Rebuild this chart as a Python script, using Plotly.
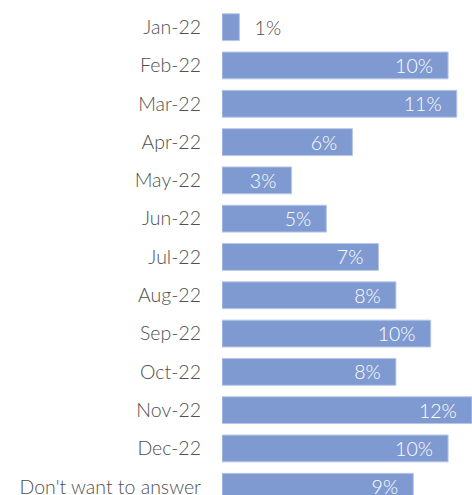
import plotly.graph_objects as go

# Share of responses by month (percent)
months = ["Jan-22", "Feb-22", "Mar-22", "Apr-22", "May-22", "Jun-22", "Jul-22",
          "Aug-22", "Sep-22", "Oct-22", "Nov-22", "Dec-22", "Don't want to answer"]
shares = [0.8, 10.4, 10.8, 6.0, 3.2, 4.8, 7.2, 8.0, 9.6, 8.0, 11.5, 10.4, 8.8]

BAR = "#7F9AD1"
TEXT = "#505050"
FONT = "Lato, 'Open Sans', sans-serif"

positions = ["outside" if v < 2 else "inside" for v in shares]
templates = ["\u2002\u2009%{x:.0f}%" if p == "outside" else "%{x:.0f}%\u2002\u2009"
             for p in positions]
text_colors = [TEXT if p == "outside" else "white" for p in positions]

fig = go.Figure(go.Bar(
    y=months,
    x=shares,
    orientation="h",
    marker=dict(color=BAR, line=dict(color="#B7C6EA", width=1)),
    texttemplate=templates,
    textposition=positions,
    insidetextanchor="end",
    textfont=dict(family=FONT, size=19.5, weight=300, color=text_colors),
    cliponaxis=False,
    hoverinfo="skip",
))

fig.update_layout(
    width=472, height=495,
    margin=dict(l=222, r=0, t=8, b=0),
    paper_bgcolor="white", plot_bgcolor="white",
    bargap=0.30,
    showlegend=False,
    uniformtext=dict(minsize=19, mode="show"),
    xaxis=dict(range=[0, 11.5], visible=False, fixedrange=True),
    yaxis=dict(
        type="category",
        categoryorder="array", categoryarray=months,
        range=[12.215, -0.5],
        showline=False, showgrid=False, zeroline=False,
        ticks="", ticklabelstandoff=20,
        tickfont=dict(family=FONT, size=19.5, weight=300, color=TEXT),
        automargin=False,
    ),
)

fig.write_html("out.html")
